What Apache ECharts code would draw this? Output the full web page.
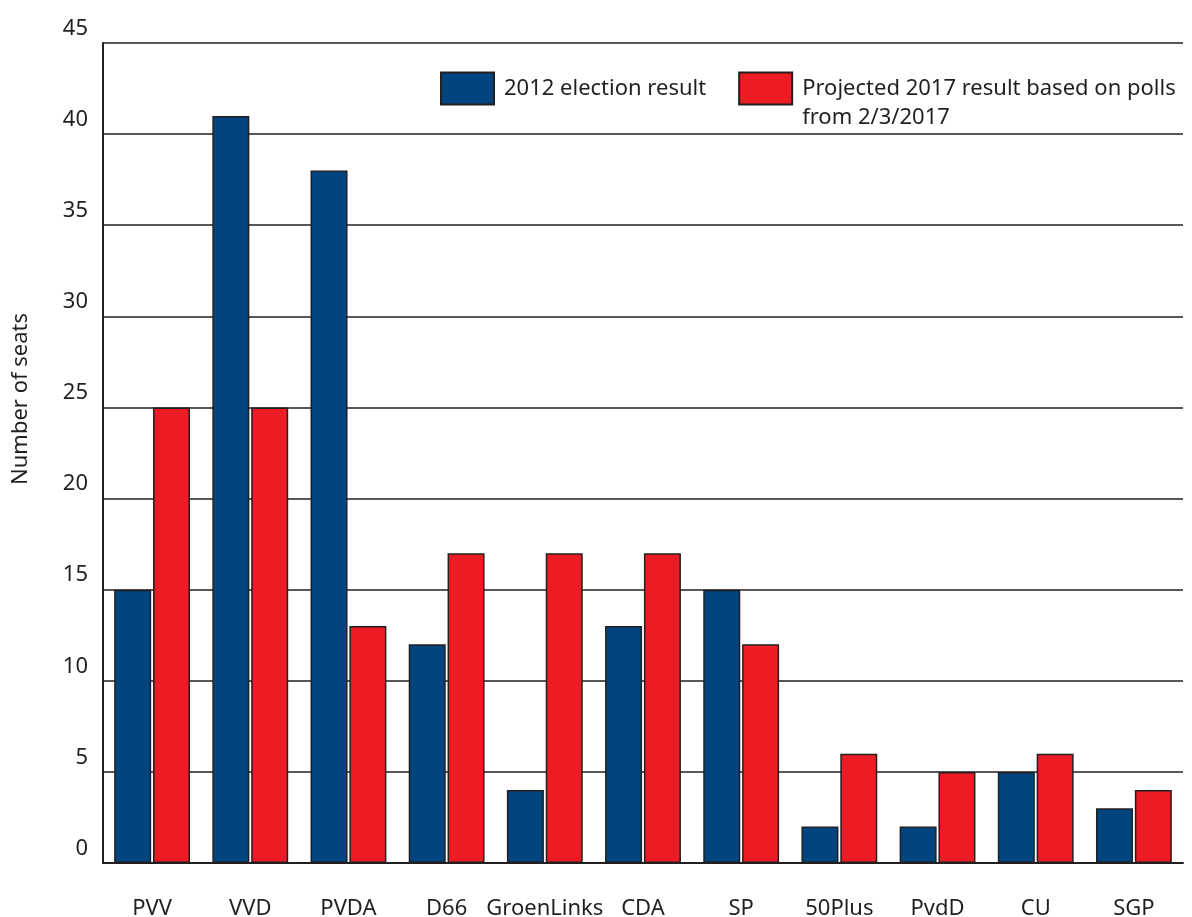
<!DOCTYPE html>
<html>
<head>
<meta charset="utf-8">
<script src="https://cdn.jsdelivr.net/npm/echarts@6/dist/echarts.min.js"></script>
<style>html,body{margin:0;padding:0;background:#fff}#c{width:1192px;height:917px}</style>
</head>
<body>
<div id="c"></div>
<script>
const categories = ['PVV','VVD','PVDA','D66','GroenLinks','CDA','SP','50Plus','PvdD','CU','SGP'];
const seats2012 = [15,41,38,12,4,13,15,2,2,5,3];
const projected2017 = [25,25,13,17,17,17,12,6,5,6,4];
const seriesNames = ['2012 election result','Projected 2017 result based on polls\nfrom 2/3/2017'];
const yAxisTitle = 'Number of seats';

const ink = '#231f20';
const font = 'Noto Sans';
const chart = echarts.init(document.getElementById('c'));
chart.setOption({
  animation: false,
  backgroundColor: '#fff',
  textStyle: {fontFamily: font, color: ink},
  grid: {left: 103, right: 9, top: 43, bottom: 54, containLabel: false, outerBoundsMode: 'none'},
  legend: {
    left: 435, top: 40,
    icon: 'rect',
    itemWidth: 53, itemHeight: 32, itemGap: 32,
    formatter: function (name) { return name.indexOf('\n') >= 0 ? '\n' + name : name; },
    textStyle: {fontFamily: font, fontSize: 22, color: ink, lineHeight: 29, padding: [0, 0, 0, 5]},
    data: seriesNames
  },
  xAxis: {
    type: 'category', data: categories,
    axisLine: {show: true, lineStyle: {color: ink, width: 2}},
    axisTick: {show: false},
    axisLabel: {interval: 0, fontFamily: font, fontSize: 22, color: ink, margin: 35}
  },
  yAxis: {
    type: 'value', min: 0, max: 45, interval: 5,
    axisLine: {show: true, lineStyle: {color: ink, width: 2}},
    axisTick: {show: false},
    splitLine: {show: true, lineStyle: {color: ink, width: 1.5}},
    axisLabel: {fontFamily: font, fontSize: 22, color: ink, margin: 15, verticalAlign: 'bottom', lineHeight: 29}
  },
  graphic: [{
    type: 'text', left: 10, top: 313, rotation: Math.PI / 2,
    style: {text: yAxisTitle, fontFamily: font, fontSize: 22, fill: ink}
  }],
  series: [
    {name: seriesNames[0], type: 'bar', data: seats2012, barWidth: 37, barGap: '5%',
     itemStyle: {color: '#00457f', borderColor: ink, borderWidth: 1.5}},
    {name: seriesNames[1], type: 'bar', data: projected2017, barWidth: 37,
     itemStyle: {color: '#ed1c24', borderColor: ink, borderWidth: 1.5}}
  ]
});
</script>
</body>
</html>
